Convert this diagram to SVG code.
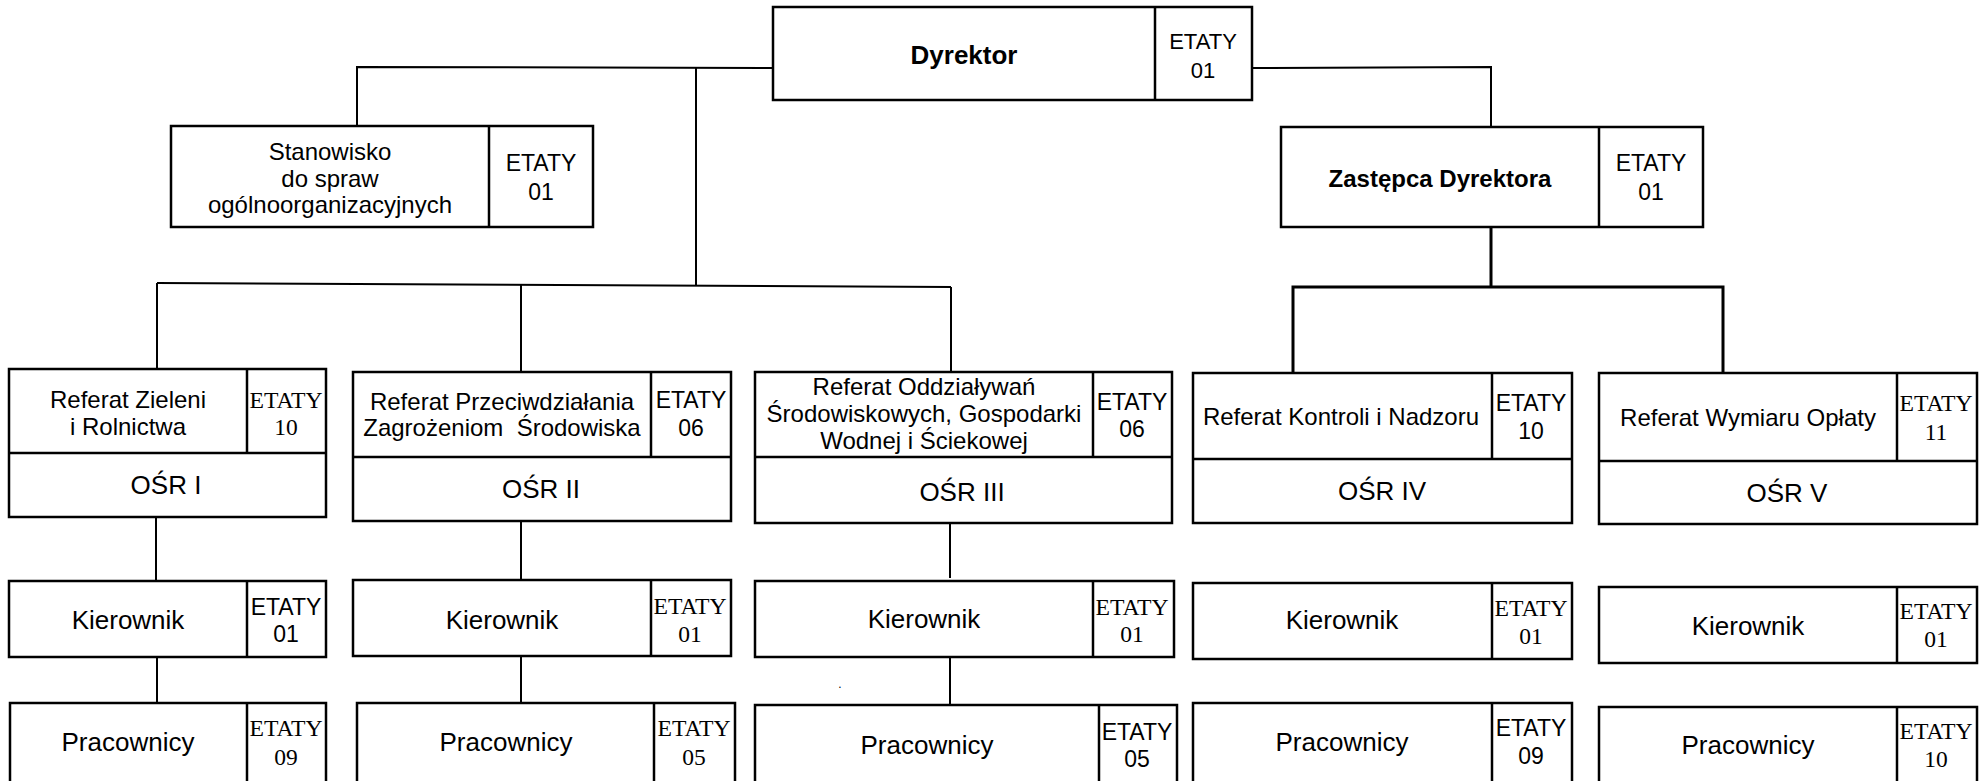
<svg xmlns="http://www.w3.org/2000/svg" width="1986" height="781" viewBox="0 0 1986 781">
<style>
.box{fill:#fff;stroke:#000;stroke-width:2.5}
.div{stroke:#000;stroke-width:2.5;fill:none}
.ln{stroke:#000;stroke-width:2;fill:none}
.lnb{stroke:#000;stroke-width:3;fill:none}
.t{font-family:"Liberation Sans",Arial,sans-serif;text-anchor:middle;fill:#000;white-space:pre}
.s24{font-size:24px}
.s26{font-size:26px}
.b{font-weight:bold}
.ea{font-family:"Liberation Sans",Arial,sans-serif;font-size:23px;text-anchor:middle;fill:#000}
.et{font-family:"Liberation Serif","Times New Roman",serif;font-size:23.5px;text-anchor:middle;fill:#000}
</style>
<rect width="1986" height="781" fill="#fff"/>
<g id="connectors">
<polyline class="ln" points="773,68 357,67 357,126"/>
<line class="ln" x1="696" y1="68" x2="696" y2="285"/>
<line class="ln" x1="157" y1="283" x2="951" y2="287"/>
<line class="ln" x1="157" y1="283" x2="157" y2="369"/>
<line class="ln" x1="521" y1="285" x2="521" y2="372"/>
<line class="ln" x1="951" y1="287" x2="951" y2="372"/>
<polyline class="ln" points="1252,68 1491,67 1491,127"/>
<line class="lnb" x1="1491" y1="227" x2="1491" y2="287"/>
<polyline class="lnb" points="1293,373 1293,287 1723,287 1723,373"/>
<line class="ln" x1="156" y1="517" x2="156" y2="581"/>
<line class="ln" x1="157" y1="657" x2="157" y2="703"/>
<line class="ln" x1="521" y1="521" x2="521" y2="580"/>
<line class="ln" x1="521" y1="656" x2="521" y2="703"/>
<line class="ln" x1="950" y1="523" x2="950" y2="578"/>
<line class="ln" x1="950" y1="657" x2="950" y2="710"/>
</g>
<g id="dyrektor">
<rect class="box" x="773" y="7" width="479" height="93"/>
<line class="div" x1="1155" y1="7" x2="1155" y2="100"/>
<text class="t s26 b" x="964" y="64">Dyrektor</text>
<text class="ea" x="1203" y="49" style="font-size:22px">ETATY</text>
<text class="ea" x="1203" y="78" style="font-size:22px">01</text>
</g>
<g id="stanowisko">
<rect class="box" x="171" y="126" width="422" height="101"/>
<line class="div" x1="489" y1="126" x2="489" y2="227"/>
<text class="t s24" x="330" y="160">Stanowisko</text>
<text class="t s24" x="330" y="187">do spraw</text>
<text class="t s24" x="330" y="213">ogólnoorganizacyjnych</text>
<text class="ea" x="541" y="171">ETATY</text>
<text class="ea" x="541" y="200">01</text>
</g>
<g id="zastepca">
<rect class="box" x="1281" y="127" width="422" height="100"/>
<line class="div" x1="1599" y1="127" x2="1599" y2="227"/>
<text class="t s24 b" x="1440" y="187">Zastępca Dyrektora</text>
<text class="ea" x="1651" y="171">ETATY</text>
<text class="ea" x="1651" y="200">01</text>
</g>
<g id="osr1">
<rect class="box" x="9" y="369" width="317" height="148"/>
<line class="div" x1="9" y1="453" x2="326" y2="453"/>
<line class="div" x1="247" y1="369" x2="247" y2="453"/>
<text class="t s24" x="128" y="408">Referat Zieleni</text>
<text class="t s24" x="128" y="435">i Rolnictwa</text>
<text class="et" x="286" y="408" textLength="73" lengthAdjust="spacingAndGlyphs">ETATY</text>
<text class="et" x="286" y="435">10</text>
<text class="t s26" x="166" y="494">OŚR I</text>
</g>
<g id="kier1">
<rect class="box" x="9" y="581" width="317" height="76"/>
<line class="div" x1="247" y1="581" x2="247" y2="657"/>
<text class="t s26" x="128" y="629">Kierownik</text>
<text class="ea" x="286" y="615">ETATY</text>
<text class="ea" x="286" y="642">01</text>
</g>
<g id="prac1">
<rect class="box" x="10" y="703" width="316" height="100"/>
<line class="div" x1="247" y1="703" x2="247" y2="803"/>
<text class="t s26" x="128" y="751">Pracownicy</text>
<text class="et" x="286" y="736" textLength="73" lengthAdjust="spacingAndGlyphs">ETATY</text>
<text class="et" x="286" y="765">09</text>
</g>
<g id="osr2">
<rect class="box" x="353" y="372" width="378" height="149"/>
<line class="div" x1="353" y1="457" x2="731" y2="457"/>
<line class="div" x1="651" y1="372" x2="651" y2="457"/>
<text class="t s24" x="502" y="410">Referat Przeciwdziałania</text>
<text class="t s24" x="502" y="436">Zagrożeniom  Środowiska</text>
<text class="ea" x="691" y="408">ETATY</text>
<text class="ea" x="691" y="436">06</text>
<text class="t s26" x="541" y="498">OŚR II</text>
</g>
<g id="kier2">
<rect class="box" x="353" y="580" width="378" height="76"/>
<line class="div" x1="651" y1="580" x2="651" y2="656"/>
<text class="t s26" x="502" y="629">Kierownik</text>
<text class="et" x="690" y="614" textLength="73" lengthAdjust="spacingAndGlyphs">ETATY</text>
<text class="et" x="690" y="642">01</text>
</g>
<g id="prac2">
<rect class="box" x="357" y="703" width="378" height="100"/>
<line class="div" x1="654" y1="703" x2="654" y2="803"/>
<text class="t s26" x="506" y="751">Pracownicy</text>
<text class="et" x="694" y="736" textLength="73" lengthAdjust="spacingAndGlyphs">ETATY</text>
<text class="et" x="694" y="765">05</text>
</g>
<g id="osr3">
<rect class="box" x="755" y="372" width="417" height="151"/>
<line class="div" x1="755" y1="457" x2="1172" y2="457"/>
<line class="div" x1="1093" y1="372" x2="1093" y2="457"/>
<text class="t s24" x="924" y="395">Referat Oddziaływań</text>
<text class="t s24" x="924" y="422">Środowiskowych, Gospodarki</text>
<text class="t s24" x="924" y="449">Wodnej i Ściekowej</text>
<text class="ea" x="1132" y="410">ETATY</text>
<text class="ea" x="1132" y="437">06</text>
<text class="t s26" x="962" y="501">OŚR III</text>
</g>
<g id="kier3">
<rect class="box" x="755" y="581" width="419" height="76"/>
<line class="div" x1="1093" y1="581" x2="1093" y2="657"/>
<text class="t s26" x="924" y="628">Kierownik</text>
<text class="et" x="1132" y="615" textLength="73" lengthAdjust="spacingAndGlyphs">ETATY</text>
<text class="et" x="1132" y="642">01</text>
</g>
<text class="t" x="840" y="688" style="font-size:12px">.</text>
<g id="prac3">
<rect class="box" x="755" y="705" width="422" height="100"/>
<line class="div" x1="1099" y1="705" x2="1099" y2="805"/>
<text class="t s26" x="927" y="754">Pracownicy</text>
<text class="ea" x="1137" y="740">ETATY</text>
<text class="ea" x="1137" y="767">05</text>
</g>
<g id="osr4">
<rect class="box" x="1193" y="373" width="379" height="150"/>
<line class="div" x1="1193" y1="459" x2="1572" y2="459"/>
<line class="div" x1="1492" y1="373" x2="1492" y2="459"/>
<text class="t s24" x="1341" y="425">Referat Kontroli i Nadzoru</text>
<text class="ea" x="1531" y="411">ETATY</text>
<text class="ea" x="1531" y="439">10</text>
<text class="t s26" x="1382" y="500">OŚR IV</text>
</g>
<g id="kier4">
<rect class="box" x="1193" y="583" width="379" height="76"/>
<line class="div" x1="1492" y1="583" x2="1492" y2="659"/>
<text class="t s26" x="1342" y="629">Kierownik</text>
<text class="et" x="1531" y="616" textLength="73" lengthAdjust="spacingAndGlyphs">ETATY</text>
<text class="et" x="1531" y="644">01</text>
</g>
<g id="prac4">
<rect class="box" x="1193" y="703" width="379" height="100"/>
<line class="div" x1="1492" y1="703" x2="1492" y2="803"/>
<text class="t s26" x="1342" y="751">Pracownicy</text>
<text class="ea" x="1531" y="736">ETATY</text>
<text class="ea" x="1531" y="764">09</text>
</g>
<g id="osr5">
<rect class="box" x="1599" y="373" width="378" height="151"/>
<line class="div" x1="1599" y1="461" x2="1977" y2="461"/>
<line class="div" x1="1897" y1="373" x2="1897" y2="461"/>
<text class="t s24" x="1748" y="426">Referat Wymiaru Opłaty</text>
<text class="et" x="1936" y="411" textLength="73" lengthAdjust="spacingAndGlyphs">ETATY</text>
<text class="et" x="1936" y="440">11</text>
<text class="t s26" x="1787" y="502">OŚR V</text>
</g>
<g id="kier5">
<rect class="box" x="1599" y="587" width="378" height="76"/>
<line class="div" x1="1897" y1="587" x2="1897" y2="663"/>
<text class="t s26" x="1748" y="635">Kierownik</text>
<text class="et" x="1936" y="619" textLength="73" lengthAdjust="spacingAndGlyphs">ETATY</text>
<text class="et" x="1936" y="647">01</text>
</g>
<g id="prac5">
<rect class="box" x="1599" y="707" width="378" height="100"/>
<line class="div" x1="1897" y1="707" x2="1897" y2="807"/>
<text class="t s26" x="1748" y="754">Pracownicy</text>
<text class="et" x="1936" y="739" textLength="73" lengthAdjust="spacingAndGlyphs">ETATY</text>
<text class="et" x="1936" y="767">10</text>
</g>
</svg>
